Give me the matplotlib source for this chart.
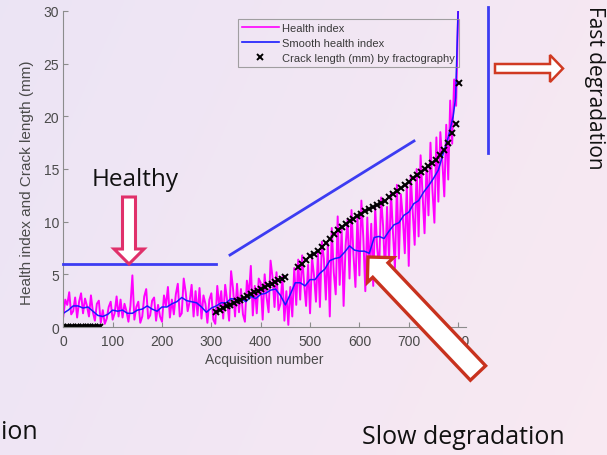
import numpy as np
import matplotlib
matplotlib.use("Agg")
import matplotlib.pyplot as plt
from matplotlib.patches import Polygon
from matplotlib.lines import Line2D

# ---------------- data ----------------
hi_x = list(range(0, 800, 4)) + [800]
health_index = [
    1.0, 2.6, 2.1, 3.3, 1.2, 1.5, 2.8, 0.9, 2.4, 3.2,
    1.3, 2.7, 2.0, 1.0, 3.0, 1.4, 0.6, 2.2, 2.5, 0.4,
    1.6, 0.3, 0.8, 1.9, 2.4, 0.7, 1.3, 2.9, 1.0, 2.6,
    0.9, 2.2, 1.5, 0.5, 2.0, 4.9, 0.7, 1.9, 2.4, 0.4,
    1.0, 2.9, 3.6, 0.8, 1.1, 2.5, 2.8, 0.6, 2.1, 1.0,
    0.5, 3.0, 2.0, 3.8, 0.9, 2.6, 1.2, 3.1, 4.1, 1.0,
    1.3, 4.6, 3.3, 1.5, 2.4, 4.0, 1.0, 3.4, 1.1, 3.7,
    0.8, 3.0, 2.2, 0.4, 2.6, 3.2, 0.7, 0.3, 3.9, 1.9,
    3.4, 0.8, 4.0, 2.5, 0.6, 5.3, 3.6, 1.0, 4.1, 1.4,
    3.6, 1.2, 0.5, 4.4, 3.0, 5.8, 1.1, 3.9, 1.3, 4.6,
    4.2, 0.7, 5.0, 2.8, 1.4, 6.3, 4.7, 1.9, 5.2, 1.6,
    2.2, 4.8, 0.6, 3.4, 0.2, 3.8, 1.0, 5.6, 2.1, 6.4,
    2.6, 6.8, 4.1, 2.0, 5.9, 1.3, 6.6, 4.9, 2.4, 7.0,
    1.9, 8.1, 6.5, 2.6, 7.9, 1.0, 9.4, 5.2, 3.1, 10.5,
    4.0, 9.3, 2.0, 7.7, 10.2, 4.6, 11.1, 6.8, 3.8, 10.6,
    4.9, 12.0, 8.4, 3.4, 10.4, 5.3, 9.8, 3.9, 11.3, 7.5,
    5.5, 12.3, 9.6, 5.0, 11.4, 6.3, 12.8, 9.0, 5.6, 13.5,
    6.5, 12.6, 10.4, 7.0, 13.4, 5.8, 14.4, 11.0, 7.8, 15.0,
    8.6, 16.3, 12.5, 8.9, 15.2, 10.6, 17.5, 13.0, 9.9, 18.0,
    11.9, 18.5, 15.8, 12.4, 19.2, 14.0, 21.5, 17.4, 23.5, 21.0,
    30.0,
]

smooth_x = list(range(0, 800, 10)) + [795, 800]
smooth_hi = [
    1.3, 1.6, 2.0, 2.0, 1.8, 1.9, 1.5, 1.1, 1.0, 1.2,
    1.6, 1.5, 1.6, 1.3, 1.3, 1.6, 1.7, 2.0, 1.7, 1.5,
    1.9, 1.9, 2.2, 2.4, 2.8, 2.5, 2.4, 2.3, 1.9, 1.4,
    1.8, 2.0, 2.3, 2.3, 2.7, 2.6, 2.7, 2.4, 2.9, 2.7,
    3.1, 3.2, 3.5, 3.6, 3.0, 2.1, 3.1, 4.2, 4.2, 3.9,
    4.5, 4.5, 5.1, 5.5, 6.3, 6.5, 6.6, 7.1, 7.7, 7.3,
    7.2, 7.2, 7.0, 8.5, 8.6, 8.4, 9.1, 9.7, 9.9, 10.6,
    10.9, 11.7, 12.0, 12.8, 13.4, 14.1, 14.9, 16.5, 18.0, 20.0,
    21.8, 30.0,
]

crack_x = [0, 5, 10, 15, 20, 25, 30, 35, 40, 45, 50, 55, 60, 65, 70, 75,
           310, 317, 324, 331, 338, 345, 352, 359, 366, 373, 380, 387, 394,
           401, 408, 415, 422, 429, 436, 443, 450,
           476, 484, 492, 500, 508, 516, 524, 532, 540, 548, 556, 564, 572,
           580, 588, 596, 604, 612, 620, 628, 636, 644, 652, 660, 668, 676,
           684, 692, 700, 708, 716, 724, 732, 740, 748, 756, 764, 772, 780,
           788, 796, 802]
crack_len = [0, 0, 0, 0, 0, 0, 0, 0, 0, 0, 0, 0, 0, 0, 0, 0,
             1.4, 1.6, 1.8, 1.95, 2.1, 2.3, 2.45, 2.6, 2.8, 2.95, 3.1, 3.3,
             3.45, 3.6, 3.8, 3.95, 4.1, 4.3, 4.45, 4.6, 4.75,
             5.7, 6.0, 6.4, 6.7, 6.9, 7.2, 7.6, 8.0, 8.4, 8.8, 9.2, 9.5, 9.8,
             10.1, 10.3, 10.5, 10.7, 11.0, 11.2, 11.4, 11.6, 11.8, 12.0, 12.3,
             12.6, 12.9, 13.2, 13.5, 13.8, 14.1, 14.4, 14.7, 15.0, 15.3, 15.6,
             15.9, 16.3, 16.8, 17.5, 18.4, 19.3, 23.2]

x_ticks = [0, 100, 200, 300, 400, 500, 600, 700, 800]
y_ticks = [0, 5, 10, 15, 20, 25, 30]

# ---------------- figure ----------------
W, H = 607, 456
fig = plt.figure(figsize=(W / 100, H / 100), dpi=100)


def P(x, y):
    return (x / W, 1 - y / H)


# slide background gradient
bgax = fig.add_axes([0, 0, 1, 1], zorder=0)
bgax.axis("off")
gx = np.linspace(0, 1, 256)
gy = np.linspace(0, 1, 64)
GX, GY = np.meshgrid(gx, gy)
c1 = np.array([0.925, 0.895, 0.960])
c2 = np.array([0.975, 0.915, 0.950])
t = np.clip(0.75 * GX + 0.25 * GY, 0, 1)[..., None]
img = c1 * (1 - t) + c2 * t
bgax.imshow(img, aspect="auto", extent=[0, 1, 0, 1], origin="upper")
bgax.set_xlim(0, 1)
bgax.set_ylim(0, 1)

# main axes
x0, y0 = P(63.3, 328)
ax = fig.add_axes([x0, y0, 815 * 0.4935 / W, 316 / H], zorder=1)
ax.patch.set_alpha(0)

ax.plot(hi_x, health_index, color="#ff00ff", lw=1.4, label="Health index")
ax.plot(smooth_x, smooth_hi, color="#1a1aff", lw=1.1, label="Smooth health index")
ax.plot(crack_x, crack_len, ls="none", marker="x", color="black", ms=4,
        mew=1.4, label="Crack length (mm) by fractography")

ax.set_xlim(0, 815)
ax.set_ylim(0, 30)
ax.set_xticks(x_ticks)
ax.set_yticks(y_ticks)
for s in ["top", "right"]:
    ax.spines[s].set_visible(False)
for s in ["left", "bottom"]:
    ax.spines[s].set_color("#8c8c8c")
    ax.spines[s].set_linewidth(0.8)
ax.tick_params(direction="in", length=3.5, width=0.8, color="#8c8c8c",
               labelcolor="#4a4a4a", labelsize=10)
ax.tick_params(axis="x", pad=5)
ax.tick_params(axis="y", pad=3)
for lab in ax.get_xticklabels() + ax.get_yticklabels():
    lab.set_family("Liberation Sans")
ax.set_xlabel("Acquisition number", fontsize=10, color="#4a4a4a",
              family="Liberation Sans", labelpad=3)
ax.set_ylabel("Health index and Crack length (mm)", fontsize=11,
              color="#4a4a4a", family="Liberation Sans")
ax.yaxis.set_label_coords(-0.072, 0.46)

leg = ax.legend(loc="upper left", bbox_to_anchor=P(238, 20),
                bbox_transform=fig.transFigure,
                prop={"family": "Liberation Sans", "size": 8},
                frameon=True, fancybox=False, handlelength=3.3,
                handletextpad=0.35, labelspacing=0.45, borderpad=0.35,
                borderaxespad=0)
leg.get_frame().set_edgecolor("#8c8c8c")
leg.get_frame().set_facecolor("none")
leg.get_frame().set_linewidth(0.8)
for line in leg.get_lines():
    line.set_linewidth(1.2)
for txt in leg.get_texts():
    txt.set_color("#3a3a3a")


# ---------------- slide annotations ----------------
def block_arrow(tail, tip, sw, hw, hl, edge, lw):
    tx, ty = tail
    px, py = tip
    d = np.array([px - tx, py - ty], dtype=float)
    d /= np.hypot(*d)
    n = np.array([-d[1], d[0]])
    tail = np.array(tail, float)
    tip = np.array(tip, float)
    base = tip - d * hl
    pts = [tail + n * sw / 2, base + n * sw / 2, base + n * hw / 2, tip,
           base - n * hw / 2, base - n * sw / 2, tail - n * sw / 2]
    pts = [P(*p) for p in pts]
    poly = Polygon(pts, closed=True, facecolor="white", edgecolor=edge,
                   lw=lw, transform=fig.transFigure, zorder=6,
                   joinstyle="miter")
    fig.add_artist(poly)


def fig_line(p1, p2):
    (xa, ya), (xb, yb) = P(*p1), P(*p2)
    fig.add_artist(Line2D([xa, xb], [ya, yb], color="#3c3cf2", lw=2.0,
                          transform=fig.transFigure, zorder=5))


fig_line((63, 265), (216, 265))
fig_line((230, 256), (414, 142))
fig_line((488, 8), (488, 154))

block_arrow((129, 198), (129, 265), 13, 30, 15, "#e0306a", 2.2)
block_arrow((495, 69.5), (563, 69.5), 9, 27, 13, "#d03a22", 1.8)
block_arrow((478, 374), (368, 258), 21, 36, 18, "#c8321e", 2.4)

tc = "#111111"
fig.text(*P(135, 180), "Healthy", ha="center", va="center", zorder=7,
         family="Open Sans", color=tc, fontsize=17.5)
fig.text(*P(594, 88), "Fast degradation", ha="center", va="center",
         rotation=270, zorder=7, family="Open Sans", color=tc, fontsize=15)
fig.text(*P(463, 438), "Slow degradation", ha="center", va="center",
         zorder=7, family="Open Sans", color=tc, fontsize=18)
fig.text(*P(1, 433), "ion", ha="left", va="center", zorder=7,
         family="Open Sans", color=tc, fontsize=18)

fig.savefig("out.png", dpi=100)
